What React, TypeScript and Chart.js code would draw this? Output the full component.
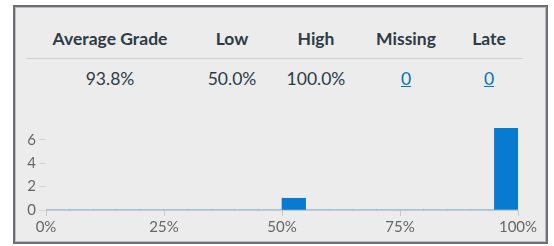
import React, { useEffect, useRef } from "react";
import { Chart, registerables } from "chart.js";

Chart.register(...registerables);

const headers = ["Average Grade", "Low", "High", "Missing", "Late"];
const values = ["93.8%", "50.0%", "100.0%", "0", "0"];
const linkColumns = [false, false, false, true, true];
const columnCenters = [110, 232, 316, 406, 489];

// histogram bins of 5% (0-5, 5-10, ..., 95-100)
const binLabels = [
  "0-5", "5-10", "10-15", "15-20", "20-25", "25-30", "30-35", "35-40", "40-45", "45-50",
  "50-55", "55-60", "60-65", "65-70", "70-75", "75-80", "80-85", "85-90", "90-95", "95-100",
];
const binCounts = [0, 0, 0, 0, 0, 0, 0, 0, 0, 0, 1, 0, 0, 0, 0, 0, 0, 0, 0, 7];
const yMax = 7;
const yTickStep = 2;
const xTickStep = 25;

const textColor = "#2d3b45";
const linkColor = "#0374b5";
const barColor = "#087bd0";

export default function App() {
  const canvasRef = useRef<HTMLCanvasElement | null>(null);

  useEffect(() => {
    if (!canvasRef.current) return;
    Chart.defaults.font.family = "Lato";
    const chart = new Chart(canvasRef.current, {
      type: "bar",
      data: {
        labels: binLabels,
        datasets: [
          {
            data: binCounts,
            backgroundColor: barColor,
            barPercentage: 1,
            categoryPercentage: 1,
            xAxisID: "x",
          },
        ],
      },
      options: {
        animation: false,
        responsive: false,
        maintainAspectRatio: false,
        layout: { padding: { left: 0, right: 22, top: 18, bottom: 4 } },
        plugins: { legend: { display: false }, tooltip: { enabled: false } },
        scales: {
          x: { display: false, type: "category" },
          x2: {
            type: "linear",
            position: "bottom",
            offset: false,
            min: 0,
            max: 100,
            ticks: {
              stepSize: xTickStep,
              callback: (v: any) => v + "%",
              color: "#666",
              font: { size: 15 },
              padding: 2,
              maxRotation: 0,
            },
            grid: {
              offset: false,
              drawOnChartArea: false,
              drawTicks: true,
              tickLength: 6,
              color: "#c8c8c8",
            },
            border: { display: true, color: "#c8c8c8" },
          },
          y: {
            min: 0,
            max: yMax,
            afterBuildTicks: (axis: any) => {
              axis.ticks = axis.ticks.filter((t: any) => t.value % yTickStep === 0);
            },
            afterFit: (axis: any) => {
              axis.width = 26;
            },
            ticks: {
              stepSize: yTickStep,
              color: "#666",
              font: { size: 15 },
              padding: 3,
            },
            grid: {
              drawOnChartArea: false,
              drawTicks: true,
              tickLength: 7,
              color: "#d6d6d6",
            },
            border: { display: false },
          },
        },
      },
    });
    return () => chart.destroy();
  }, []);

  return (
    <div
      style={{
        position: "fixed",
        left: 0,
        top: 0,
        width: 554,
        height: 246,
        background: "#fff",
        fontFamily: "Lato, sans-serif",
        overflow: "hidden",
      }}
    >
      <div
        style={{
          position: "absolute",
          left: 13,
          top: 5,
          width: 531,
          height: 235,
          background: "#ececec",
          border: "2px solid #6e6e76",
          boxShadow: "inset 0 0 0 1px #bdbdbd",
        }}
      />
      <div
        style={{
          position: "absolute",
          left: 27,
          top: 58,
          width: 496,
          height: 1,
          background: "#c7cdd1",
        }}
      />
      {headers.map((h, i) => (
        <span
          key={"h" + i}
          style={{
            position: "absolute",
            left: columnCenters[i],
            top: 30,
            transform: "translateX(-50%)",
            fontSize: 17.5,
            lineHeight: "17.5px",
            fontWeight: 700,
            color: textColor,
            whiteSpace: "nowrap",
          }}
        >
          {h}
        </span>
      ))}
      {values.map((v, i) => (
        <span
          key={"v" + i}
          style={{
            position: "absolute",
            left: columnCenters[i],
            top: 69.5,
            transform: "translateX(-50%)",
            fontSize: 17.5,
            lineHeight: "17.5px",
            fontWeight: 400,
            color: linkColumns[i] ? linkColor : textColor,
            textDecoration: linkColumns[i] ? "underline" : "none",
            whiteSpace: "nowrap",
          }}
        >
          {v}
        </span>
      ))}
      <canvas
        ref={canvasRef}
        width={520}
        height={132}
        style={{ position: "absolute", left: 20, top: 110, width: 520, height: 132 }}
      />
    </div>
  );
}
